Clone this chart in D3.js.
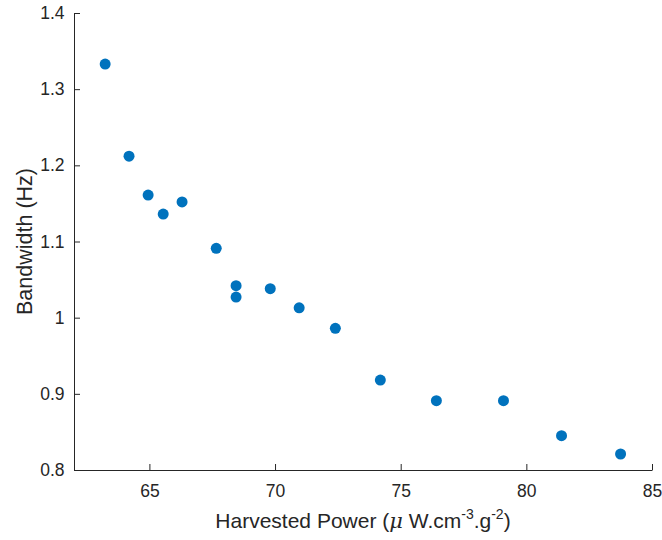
<!DOCTYPE html>
<html><head><meta charset="utf-8">
<script src="https://cdn.jsdelivr.net/npm/d3@7"></script>
<style>body{margin:0;background:#fff;} text{font-family:"Liberation Sans",Arial,Helvetica,sans-serif;}</style>
</head><body><svg id="c" width="662" height="540"></svg>
<script>
const power = [63.24, 64.19, 64.95, 65.55, 66.30, 67.66, 68.45, 68.45, 69.81, 70.96, 72.40, 74.19, 76.42, 79.09, 81.40, 83.75];
const bandwidth = [1.333, 1.212, 1.161, 1.136, 1.152, 1.091, 1.042, 1.027, 1.038, 1.013, 0.986, 0.918, 0.891, 0.891, 0.845, 0.821];
const xTicks = [65, 70, 75, 80, 85];
const yTicks = [0.8, 0.9, 1, 1.1, 1.2, 1.3, 1.4];

const svg = d3.select("#c");
const L = 74, R = 652, T = 13, B = 470;
const x = d3.scaleLinear().domain([62, 85]).range([L, R]);
const y = d3.scaleLinear().domain([0.8, 1.4]).range([B, T]);
const col = "#262626";

const xa = svg.append("g").attr("transform", `translate(0,${B})`)
  .call(d3.axisBottom(x).tickValues(xTicks).tickFormat(d3.format("d")).tickSizeInner(-6).tickSizeOuter(0).tickPadding(15));
const ya = svg.append("g").attr("transform", `translate(${L},0)`)
  .call(d3.axisLeft(y).tickValues(yTicks).tickFormat(d => String(d)).tickSizeInner(-6).tickSizeOuter(0).tickPadding(9.5));
[xa, ya].forEach(a => {
  a.select(".domain").attr("stroke", col).attr("stroke-width", 1);
  a.selectAll(".tick line").attr("stroke", col);
  a.selectAll(".tick text").attr("fill", col).style("font-size", "17.5px");
});

svg.append("g").selectAll("circle").data(power).join("circle")
  .attr("cx", (d) => x(d)).attr("cy", (d, i) => y(bandwidth[i]))
  .attr("r", 5.5).attr("fill", "#0072BD");

const xl = svg.append("text").attr("x", (L + R) / 2).attr("y", 528)
  .attr("text-anchor", "middle").attr("fill", col).style("font-size", "21px");
xl.append("tspan").text("Harvested Power (");
xl.append("tspan").text("μ").style("font-style", "italic").style("font-family", "'DejaVu Serif',serif");
xl.append("tspan").text(" W.cm");
xl.append("tspan").text("-3").attr("dy", -9).style("font-size", "14px");
xl.append("tspan").text(".g").attr("dy", 9);
xl.append("tspan").text("-2").attr("dy", -9).style("font-size", "14px");
xl.append("tspan").text(")").attr("dy", 9);

svg.append("text").attr("transform", `translate(31.5,${(T + B) / 2}) rotate(-90)`)
  .attr("text-anchor", "middle").attr("fill", col).style("font-size", "21.5px").text("Bandwidth (Hz)");
</script></body></html>
